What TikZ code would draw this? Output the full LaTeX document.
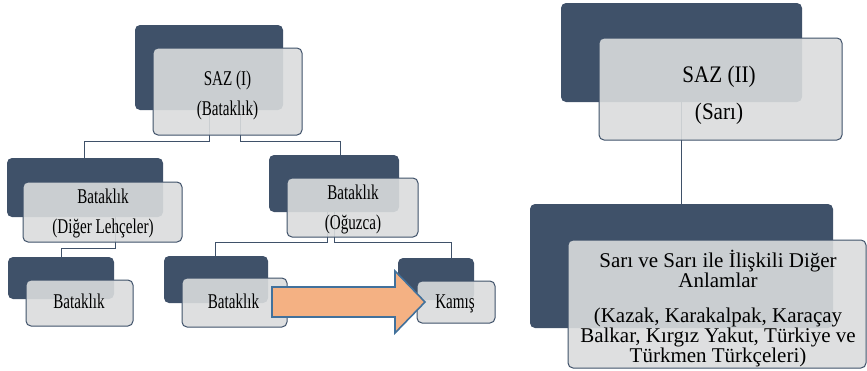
\documentclass[tikz,border=0pt]{standalone}
\usepackage{fontspec}
\setmainfont{Liberation Serif}
\newfontfamily\condA[FakeStretch=0.72]{Liberation Serif}
\newfontfamily\condB[FakeStretch=0.89]{Liberation Serif}
\definecolor{dk}{HTML}{3F5169}
\definecolor{lt}{HTML}{DADCDD}
\definecolor{orng}{HTML}{F4B183}
\definecolor{arrowblue}{HTML}{41719C}
\tikzset{
  back/.style={fill=dk, draw=none, rounded corners=5pt, inner sep=0pt},
  front/.style={fill=lt, fill opacity=0.9, draw=dk, line width=1pt,
    rounded corners=5pt, inner sep=0pt},
  conn/.style={draw=dk, line width=1pt},
  lbl/.style={inner sep=0pt, anchor=base, align=center, text=black},
  small/.style={lbl, font=\condA\fontsize{21}{30}\selectfont},
  mid/.style={lbl, font=\condB\fontsize{23.7}{37}\selectfont},
  big/.style={lbl, font=\fontsize{21}{20}\selectfont},
  bigarrow/.style={fill=orng, draw=arrowblue, line width=1.6pt, line join=miter}
}
\begin{document}
\begin{tikzpicture}[x=1pt, y=-1pt]
\useasboundingbox (0,0) rectangle (867,370);
% dark boxes
\node[back, minimum width=148, minimum height=85] (n1d) at (209,67.5) {};
\node[back, minimum width=156, minimum height=59] (c1d) at (85,187.5) {};
\node[back, minimum width=130, minimum height=57] (c2d) at (334,183.5) {};
\node[back, minimum width=106, minimum height=42] (g1d) at (61,278) {};
\node[back, minimum width=104, minimum height=47] (g2d) at (216,279.5) {};
\node[back, minimum width=76, minimum height=42] (g3d) at (436,279) {};
\node[back, minimum width=241, minimum height=99] (r1d) at (681.5,52.5) {};
\node[back, minimum width=303, minimum height=124] (r2d) at (681.5,266) {};
% connectors
\draw[conn] (n1d.south) -- ++(0,31) -| ([xshift=-1pt]c1d.north);
\draw[conn] ([xshift=31pt]n1d.south) -- ++(0,31) -| ([xshift=6pt]c2d.north);
\draw[conn] ([xshift=30pt]c1d.south) -- ++(0,31) -| (g1d.north);
\draw[conn] ([xshift=-7pt]c2d.south) -- ++(0,30) -| ([xshift=-1pt]g2d.north);
\draw[conn] (c2d.south) -- ++(0,30) -| ([xshift=15pt]g3d.north);
\draw[conn] (r1d.south) -- (r2d.north);
% light boxes
\node[front, minimum width=149, minimum height=87] (n1l) at (227.5,91.5) {};
\node[front, minimum width=159, minimum height=60] (c1l) at (102.5,212) {};
\node[front, minimum width=131, minimum height=59] (c2l) at (352.5,207.5) {};
\node[front, minimum width=107, minimum height=46] (g1l) at (79.5,303) {};
\node[front, minimum width=105, minimum height=49] (g2l) at (234.5,302.5) {};
\node[front, minimum width=78, minimum height=42] (g3l) at (456,302) {};
\node[front, minimum width=243, minimum height=102] (r1l) at (720.5,89) {};
\node[front, minimum width=298, minimum height=128] (r2l) at (717,304) {};
% texts (anchored at the baseline of the last line)
\node[small] (n1t) at (227.5,115) {SAZ (I)\\(Bataklık)};
\node[small] (c1t) at (103,233) {Bataklık\\(Diğer Lehçeler)};
\node[small] (c2t) at (353,229) {Bataklık\\(Oğuzca)};
\node[small] (g1t) at (79,308) {Bataklık};
\node[small] (g2t) at (233.5,308) {Bataklık};
\node[small] (g3t) at (455,308) {Kamış};
\node[mid] (r1t) at (719,119) {SAZ (II)\\(Sarı)};
\node[big] (r2t) at (718,362) {Sarı ve Sarı ile İlişkili Diğer\\Anlamlar\\[15pt](Kazak, Karakalpak, Karaçay\\Balkar, Kırgız Yakut, Türkiye ve\\Türkmen Türkçeleri)};
% arrow
\draw[bigarrow] (272,287) -- (395,287) -- (395,271) -- (425,302) -- (395,333) -- (395,317) -- (272,317) -- cycle;
\end{tikzpicture}
\end{document}
